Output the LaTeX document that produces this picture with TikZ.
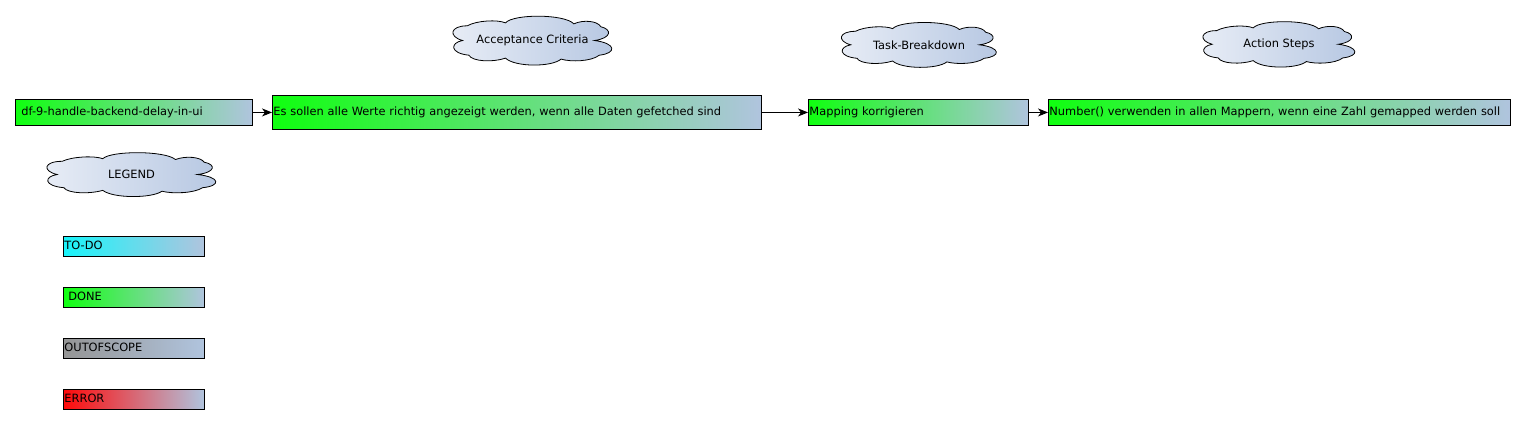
\documentclass[tikz,border=0pt]{standalone}
\usepackage{fontspec}
\setmainfont{DejaVu Sans}
\usetikzlibrary{arrows.meta}
\definecolor{steel}{HTML}{B0C4DE}
\definecolor{donegreen}{HTML}{10FF10}
\definecolor{todocyan}{HTML}{18F4FA}
\definecolor{oosgray}{HTML}{959595}
\definecolor{errred}{HTML}{FF0A0A}
\definecolor{cloudl}{HTML}{E8EDF6}
\definecolor{cloudr}{HTML}{B6C7E2}
\tikzset{
  txt/.style={font=\fontsize{11.4}{13}\selectfont},
  box/.style={draw=black, line width=0.9pt, rectangle, anchor=north west, align=left,
    inner ysep=0pt, txt, text height=8.5pt, text depth=2.5pt},
  done/.style={box, left color=donegreen, right color=steel},
  todo/.style={box, left color=todocyan, right color=steel},
  oos/.style={box, left color=oosgray, right color=steel},
  err/.style={box, left color=errred, right color=steel},
  cloudshape/.style={draw=black, line width=0.8pt, left color=cloudl, right color=cloudr},
  cloudtext/.style={txt, inner sep=0pt},
  link/.style={-{Stealth[length=10pt,width=8pt,inset=3pt]}, line width=0.9pt}
}
% name, left, top, width, height, text (visible bounds)
\newcommand\drawcloud[6]{%
  \begin{scope}[shift={(#2,#3)}, x=#4pt, y=-#5pt]
    \path[cloudshape] (0.06,0.5)
      .. controls (-0.03,0.42) and (-0.02,0.2) .. (0.09,0.2)
      .. controls (0.15,0.09) and (0.28,0.07) .. (0.33,0.14)
      .. controls (0.38,-0.045) and (0.7,-0.045) .. (0.76,0.16)
      .. controls (0.82,0.07) and (0.91,0.1) .. (0.93,0.22)
      .. controls (1.0,0.27) and (1.0,0.45) .. (0.89,0.5)
      .. controls (1.03,0.56) and (1.03,0.76) .. (0.92,0.8)
      .. controls (0.87,0.93) and (0.74,0.94) .. (0.68,0.88)
      .. controls (0.62,1.045) and (0.39,1.045) .. (0.33,0.86)
      .. controls (0.25,0.95) and (0.12,0.93) .. (0.1,0.8)
      .. controls (-0.02,0.76) and (-0.02,0.55) .. (0.06,0.5) -- cycle;
    \node[cloudtext] (#1) at (0.5,0.5) {#6};
  \end{scope}}
\begin{document}
\begin{tikzpicture}[x=1pt,y=-1pt]
\useasboundingbox (0,0) rectangle (1526,424);
% clouds
\drawcloud{cAC}{453}{16}{159}{49}{Acceptance Criteria}
\drawcloud{cTB}{841.5}{22.3}{155}{45}{Task-Breakdown}
\drawcloud{cAS}{1203}{21.5}{152}{45.5}{Action Steps}
\drawcloud{cLG}{47}{152.5}{169}{44}{LEGEND}
% main boxes
\node[done, text width=225pt, inner xsep=6pt, minimum height=26pt] (b1) at (15,99) {df-9-handle-backend-delay-in-ui};
\node[done, text width=487pt, inner xsep=1pt, minimum height=34pt] (b2) at (272,95) {Es sollen alle Werte richtig angezeigt werden, wenn alle Daten gefetched sind};
\node[done, text width=218pt, inner xsep=1pt, minimum height=26pt] (b3) at (808,99) {Mapping korrigieren};
\node[done, text width=460pt, inner xsep=1pt, minimum height=26pt] (b4) at (1048,99) {Number() verwenden in allen Mappern, wenn eine Zahl gemapped werden soll};
\draw[link] (b1.east) -- (b2.west);
\draw[link] (b2.east) -- (b3.west);
\draw[link] (b3.east) -- (b4.west);
% legend
\node[todo, text width=139pt, inner xsep=1pt, minimum height=20pt] (lTodo) at (63,236) {TO-DO};
\node[done, text width=135pt, inner xsep=3pt, minimum height=20pt] (lDone) at (63,287) {\,DONE};
\node[oos, text width=139pt, inner xsep=1pt, minimum height=20pt] (lOos) at (63,338) {OUTOFSCOPE};
\node[err, text width=139pt, inner xsep=1pt, minimum height=20pt] (lErr) at (63,389) {ERROR};
\end{tikzpicture}
\end{document}
